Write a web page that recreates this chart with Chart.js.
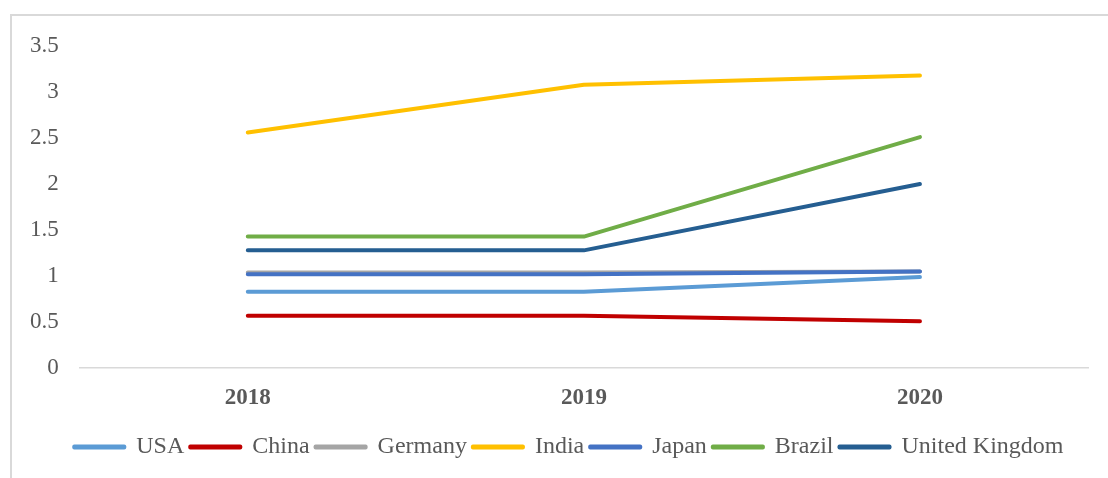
<!DOCTYPE html>
<html>
<head>
<meta charset="utf-8">
<script src="https://cdn.jsdelivr.net/npm/chart.js@4"></script>
<style>
  html, body { margin: 0; padding: 0; background: #fff; overflow: hidden; }
  #wrap { position: relative; width: 1108px; height: 478px; }
  #frame { position: absolute; left: 10px; top: 14px; width: 1200px; height: 600px; border: 2px solid #d9d9d9; box-sizing: border-box; }
  canvas { position: absolute; left: 0; top: 0; }
</style>
</head>
<body>
<div id="wrap">
  <div id="frame"></div>
  <canvas id="lineChart" width="1108" height="478"></canvas>
</div>
<script>
  // Data
  const years = ['2018', '2019', '2020'];
  const countries = ['USA', 'China', 'Germany', 'India', 'Japan', 'Brazil', 'United Kingdom'];
  const usa = [0.83, 0.83, 0.99];
  const china = [0.57, 0.57, 0.51];
  const germany = [1.04, 1.04, 1.05];
  const india = [2.56, 3.08, 3.18];
  const japan = [1.02, 1.02, 1.05];
  const brazil = [1.43, 1.43, 2.51];
  const uk = [1.28, 1.28, 2.00];
  const yTicks = [0, 0.5, 1, 1.5, 2, 2.5, 3, 3.5];

  const seriesValues = [usa, china, germany, india, japan, brazil, uk];
  const colors = ['#5b9bd5', '#c00000', '#a5a5a5', '#ffc000', '#4472c4', '#70ad47', '#255e91'];

  const font = 'Liberation Serif, Times New Roman, serif';

  // centre the legend under the plot area instead of the whole canvas
  const legendShift = {
    id: 'legendShift',
    afterLayout(chart) {
      if (chart.legend) chart.legend.left = chart.chartArea.left - 30;
    }
  };

  let ctx = document.getElementById('lineChart').getContext('2d');

  let myChart = new Chart(ctx, {
    type: 'line',
    data: {
      labels: years,
      datasets: countries.map((name, i) => ({
        label: name,
        data: seriesValues[i],
        borderColor: colors[i],
        backgroundColor: colors[i],
        borderWidth: 4,
        borderCapStyle: 'round',
        borderJoinStyle: 'round',
        pointRadius: 0,
        tension: 0,
        order: countries.length - i // later series drawn on top, like the original
      }))
    },
    plugins: [legendShift],
    options: {
      responsive: false,
      animation: false,
      layout: { padding: { left: 9, right: 20, top: 46, bottom: 9 } },
      plugins: {
        tooltip: { enabled: false },
        legend: {
          position: 'bottom',
          title: { display: true, text: '', font: { size: 1 }, padding: 0 },
          labels: {
            boxWidth: 50,
            boxHeight: 1,
            padding: 6,
            color: '#595959',
            font: { family: font, size: 24 },
            sort: (a, b) => a.datasetIndex - b.datasetIndex
          }
        }
      },
      scales: {
        x: {
          offset: true,
          grid: { display: false, drawTicks: false },
          border: { display: true, color: '#d9d9d9', width: 1.5 },
          ticks: {
            padding: 16,
            color: '#595959',
            font: { family: font, size: 23, weight: 'bold' }
          }
        },
        y: {
          min: 0,
          max: 3.5,
          afterBuildTicks: axis => { axis.ticks = yTicks.map(v => ({ value: v })); },
          grid: { display: false, drawTicks: false },
          border: { display: false },
          ticks: {
            padding: 21,
            color: '#595959',
            font: { family: font, size: 23 },
            callback: value => String(value)
          }
        }
      }
    }
  });
</script>
</body>
</html>
